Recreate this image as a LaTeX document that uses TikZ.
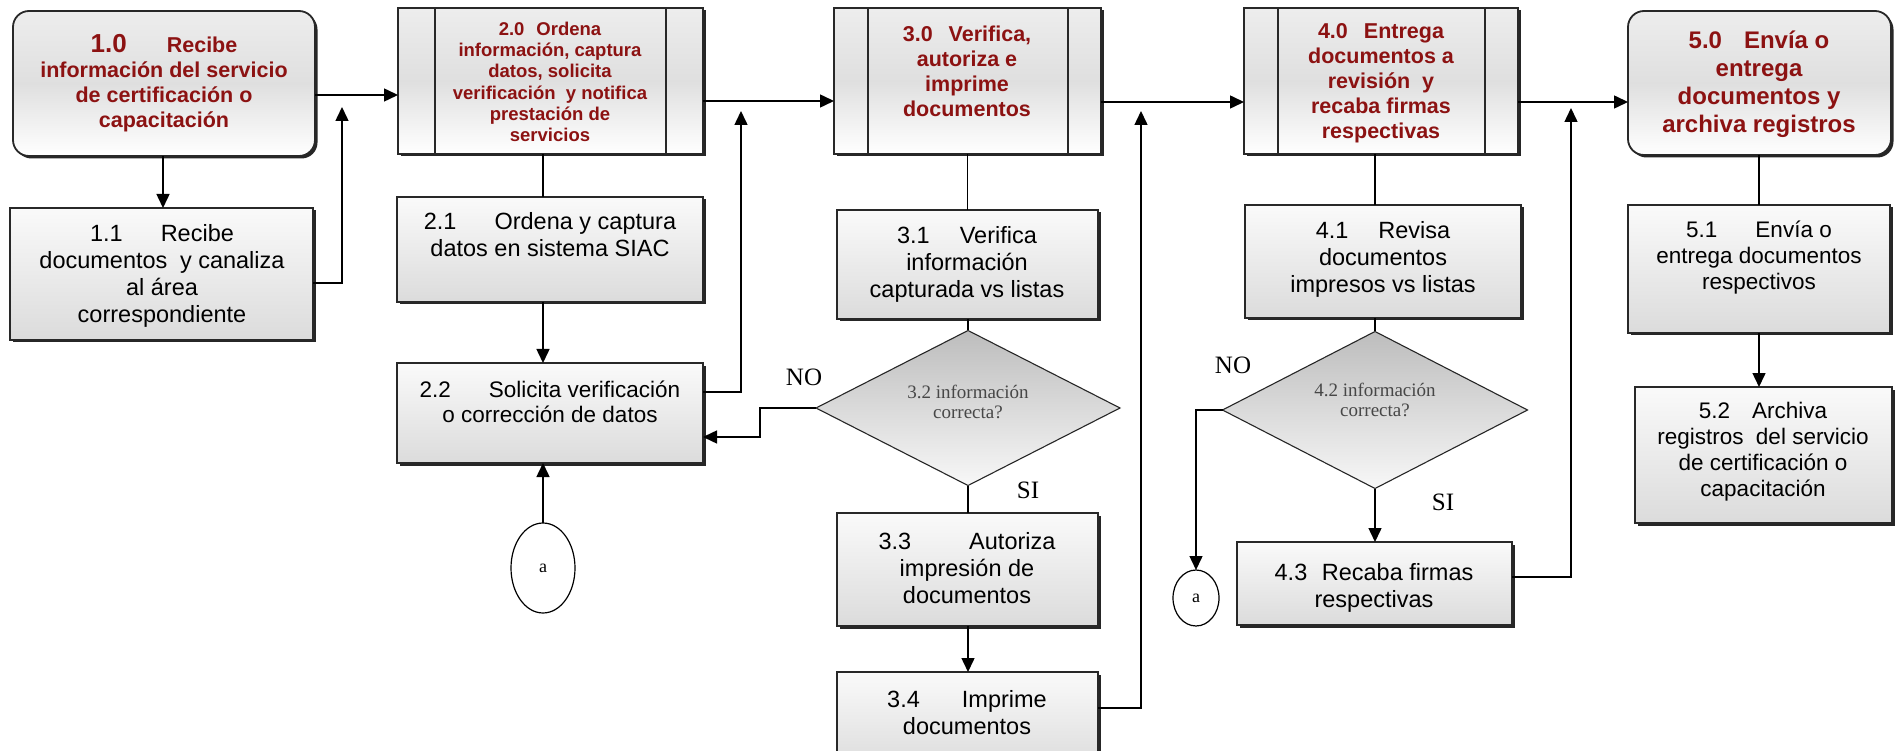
\documentclass[tikz,border=0pt]{standalone}
\usepackage{fontspec}
\setmainfont{Liberation Sans}
\newfontfamily\tms{Liberation Serif}
\usetikzlibrary{shapes.geometric,arrows.meta,shadows}
\definecolor{hdr}{RGB}{140,18,18}
\definecolor{edgec}{RGB}{40,40,40}
\tikzset{
  boxbase/.style={draw=edgec, line width=1.8pt, outer sep=0pt, inner sep=0pt, anchor=north west,
     drop shadow={shadow xshift=2.5pt, shadow yshift=-2.5pt, fill=black!85, opacity=1}},
  procbox/.style={boxbase, top color=gray!4, bottom color=gray!28},
  hdrbox/.style={boxbase, top color=gray!14, bottom color=white, middle color=gray!25},
  roundbox/.style={hdrbox, rounded corners=16pt},
  decbox/.style={diamond, draw=black!85, line width=1.1pt, inner sep=0pt, outer sep=0pt,
     aspect=2, top color=gray!52, bottom color=gray!6},
  connc/.style={ellipse, draw=black, line width=1.2pt, fill=white, inner sep=0pt, outer sep=0pt,
     font=\tms\fontsize{18}{18}\selectfont},
  htext/.style={align=center, text=hdr, font=\bfseries\fontsize{21.5}{25}\selectfont},
  btext/.style={align=center, font=\fontsize{23.5}{27}\selectfont},
  dtext/.style={align=center, text=black!72, font=\tms\fontsize{19}{20}\selectfont},
  lbl/.style={font=\tms\fontsize{25}{25}\selectfont},
  arr/.style={line width=1.5pt, -{Triangle[length=14pt,width=13pt]}},
  ln/.style={line width=1.5pt},
}
\begin{document}
\begin{tikzpicture}[x=1pt,y=-1pt]
\useasboundingbox[fill=white] (0,0) rectangle (1896,751);

% ---- top row ----
\node[roundbox, minimum width=302pt, minimum height=145pt] (b10) at (13,11) {};
\node[hdrbox, minimum width=305pt, minimum height=146pt] (b20) at (398,8) {};
\node[hdrbox, minimum width=267pt, minimum height=146pt] (b30) at (834,8) {};
\node[hdrbox, minimum width=274pt, minimum height=146pt] (b40) at (1244,8) {};
\node[roundbox, minimum width=263pt, minimum height=144pt] (b50) at (1628,11) {};

\draw[line width=1.5pt, edgec] ([xshift=37pt]b20.north west) -- ([xshift=37pt]b20.south west);
\draw[line width=1.5pt, edgec] ([xshift=-37pt]b20.north east) -- ([xshift=-37pt]b20.south east);
\draw[line width=1.5pt, edgec] ([xshift=34pt]b30.north west) -- ([xshift=34pt]b30.south west);
\draw[line width=1.5pt, edgec] ([xshift=-33pt]b30.north east) -- ([xshift=-33pt]b30.south east);
\draw[line width=1.5pt, edgec] ([xshift=34pt]b40.north west) -- ([xshift=34pt]b40.south west);
\draw[line width=1.5pt, edgec] ([xshift=-33pt]b40.north east) -- ([xshift=-33pt]b40.south east);

\node[htext] (t10) at (164,83) {{\fontsize{26}{25}\selectfont 1.0}\hspace{40pt}Recibe\\información del servicio\\de certificación o\\capacitación};
\node[htext, font=\bfseries\fontsize{18.5}{21.3}\selectfont] (t20) at (550,82) {2.0\hspace{12pt}Ordena\\información, captura\\datos, solicita\\verificación\hspace{5pt} y notifica\\prestación de\\servicios};
\node[htext] (t30) at (967,71) {3.0\hspace{16pt}Verifica,\\autoriza e\\imprime\\documentos};
\node[htext] (t40) at (1381,83) {4.0\hspace{16pt}Entrega\\documentos a\\revisión\hspace{6pt} y\\recaba firmas\\respectivas};
\node[htext, font=\bfseries\fontsize{24}{28}\selectfont] (t50) at (1759,84) {5.0\hspace{22pt}Envía o\\entrega\\documentos y\\archiva registros};

% ---- process boxes ----
\node[procbox, minimum width=303pt, minimum height=132pt] (b11) at (10,208) {};
\node[procbox, minimum width=306pt, minimum height=105pt] (b21) at (397,197) {};
\node[procbox, minimum width=306pt, minimum height=100pt] (b22) at (397,363) {};
\node[procbox, minimum width=261pt, minimum height=109pt] (b31) at (837,210) {};
\node[procbox, minimum width=261pt, minimum height=113pt] (b33) at (837,513) {};
\node[procbox, minimum width=261pt, minimum height=98pt] (b34) at (837,672) {};
\node[procbox, minimum width=276pt, minimum height=113pt] (b41) at (1245,205) {};
\node[procbox, minimum width=275pt, minimum height=83pt] (b43) at (1237,542) {};
\node[procbox, minimum width=262pt, minimum height=128pt] (b51) at (1628,205) {};
\node[procbox, minimum width=257pt, minimum height=136pt] (b52) at (1635,387) {};

\node[btext] (t11) at (162,276) {1.1\hspace{38pt}Recibe\\documentos\hspace{6pt} y canaliza\\al área\\correspondiente};
\node[btext] (t21) at (550,235) {2.1\hspace{38pt}Ordena y captura\\datos en sistema SIAC};
\node[btext, font=\fontsize{22.5}{25}\selectfont] (t22) at (550,402) {2.2\hspace{38pt}Solicita verificación\\o corrección de datos};
\node[btext] (t31) at (967,264) {3.1\hspace{30pt}Verifica\\información\\capturada vs listas};
\node[btext] (t33) at (967,568) {3.3\hspace{58pt}Autoriza\\impresión de\\documentos};
\node[btext] (t34) at (967,713) {3.4\hspace{42pt}Imprime\\documentos};
\node[btext] (t41) at (1383,259) {4.1\hspace{30pt}Revisa\\documentos\\impresos vs listas};
\node[btext] (t43) at (1374,588) {4.3\hspace{8pt} Recaba firmas\\respectivas};
\node[btext, font=\fontsize{22.5}{26}\selectfont] (t51) at (1759,258) {5.1\hspace{38pt}Envía o\\entrega documentos\\respectivos};
\node[btext, font=\fontsize{22.5}{26}\selectfont] (t52) at (1763,452) {5.2\hspace{22pt}Archiva\\registros\hspace{6pt} del servicio\\de certificación o\\capacitación};

% ---- decisions ----
\node[decbox, minimum width=304pt, minimum height=155pt] (d32) at (968,408) {};
\node[decbox, minimum width=305pt, minimum height=157pt] (d42) at (1375,410) {};
\node[dtext] (t32) at (968,402) {3.2 información\\correcta?};
\node[dtext] (t42) at (1375,400) {4.2 información\\correcta?};

% ---- connectors (circles) ----
\node[connc, minimum width=64pt, minimum height=90pt] (a1) at (543,568) {a};
\node[connc, minimum width=46pt, minimum height=56pt] (a2) at (1196,598) {a};

% ---- labels ----
\node[lbl] (no1) at (804,377) {NO};
\node[lbl] (si1) at (1028,490) {SI};
\node[lbl] (no2) at (1233,365) {NO};
\node[lbl] (si2) at (1443,502) {SI};

% ---- helper coordinates ----
\coordinate (x163) at (163,0);
\coordinate (x543) at (543,0);
\coordinate (x1375) at (1375,0);
\coordinate (x1759) at (1759,0);
\coordinate (y95) at (0,95);
\coordinate (y101) at (0,101);
\coordinate (y102) at (0,102);
\coordinate (y283) at (0,283);
\coordinate (y392) at (0,392);
\coordinate (y708) at (0,708);
\coordinate (y577) at (0,577);
\coordinate (r1) at (342,107);
\coordinate (r2) at (741,111);
\coordinate (r3) at (1141,111);
\coordinate (r4) at (1571,108);
\coordinate (k1) at (760,437);

% ---- edges ----
\draw[arr] (b10.south -| x163) -- (b11.north -| x163);
\draw[arr] (b10.east |- y95) -- (b20.west |- y95);
\draw[arr] (b11.east |- y283) -| (r1);
\draw[arr] (b20.east |- y101) -- (b30.west |- y101);
\draw[ln] (b20.south -| x543) -- (b21.north -| x543);
\draw[arr] (b21.south -| x543) -- (b22.north -| x543);
\draw[arr] (a1.north) -- (b22.south -| a1.north);
\draw[arr] (b22.east |- y392) -| (r2);
\draw[arr] (d32.west) -| (k1) -- (b22.east |- k1);
\draw[ln] (b30.south) -- (b31.north);
\draw[ln] (b31.south -| d32.north) -- (d32.north);
\draw[ln] (d32.south) -- (b33.north -| d32.south);
\draw[arr] (b33.south -| d32.south) -- (b34.north -| d32.south);
\draw[arr] (b34.east |- y708) -| (r3);
\draw[arr] (b30.east |- y102) -- (b40.west |- y102);
\draw[ln] (b40.south -| x1375) -- (b41.north -| x1375);
\draw[ln] (b41.south -| x1375) -- (d42.north);
\draw[arr] (d42.south) -- (b43.north -| d42.south);
\draw[arr] (d42.west) -| (a2.north);
\draw[arr] (b43.east |- y577) -| (r4);
\draw[arr] (b40.east |- y102) -- (b50.west |- y102);
\draw[ln] (b50.south -| x1759) -- (b51.north -| x1759);
\draw[arr] (b51.south -| x1759) -- (b52.north -| x1759);
\end{tikzpicture}
\end{document}
